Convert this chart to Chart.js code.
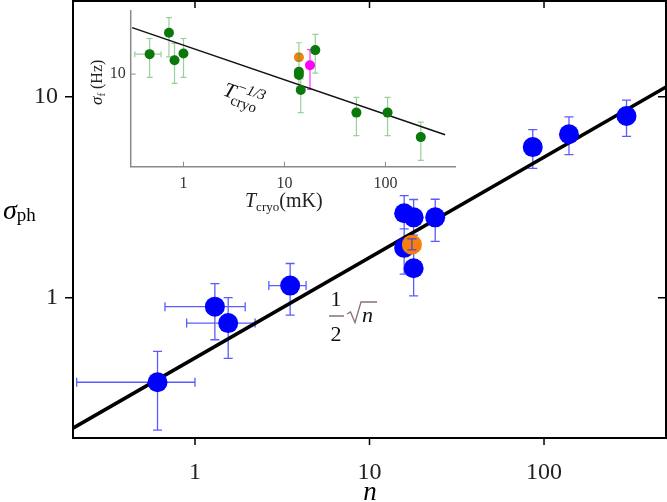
<!DOCTYPE html>
<html>
<head>
<meta charset="utf-8">
<script src="https://cdn.jsdelivr.net/npm/chart.js@4.4.0/dist/chart.umd.min.js"></script>
<style>
html, body { margin: 0; padding: 0; background: #fff; }
#wrap { position: relative; width: 667px; height: 502px; }
#main { position: absolute; left: 0; top: 0; }
#inset { position: absolute; left: 60px; top: 0; }
</style>
</head>
<body>
<div id="wrap">
<canvas id="main" width="667" height="502"></canvas>
<canvas id="inset" width="410" height="215"></canvas>
</div>
<script>
// ---- main panel: sigma_ph vs n ----
const nVals   = [0.61, 1.30, 1.55, 3.51, 15.8, 17.9, 23.8, 15.8, 17.9, 86.2, 139, 297];
const nLo     = [0.21, 0.673, 0.896, 2.65, null, null, null, null, null, null, null, null];
const nHi     = [1.00, 1.94, 2.21, 4.33, null, null, null, null, null, null, null, null];
const sigVals = [0.379, 0.902, 0.747, 1.148, 2.63, 2.51, 2.51, 1.77, 1.40, 5.62, 6.51, 8.03];
const sigLo   = [0.219, 0.617, 0.498, 0.819, 2.20, 2.05, 1.905, 1.31, 1.02, 4.40, 5.15, 6.36];
const sigHi   = [0.54, 1.175, 1.00, 1.479, 3.22, 3.08, 3.09, 2.20, 1.90, 6.87, 7.94, 9.63];

const orangeN = [17.5];
const orangeSig = [1.835];
const orangeLo = [1.73];
const orangeHi = [1.96];

const fitN = [0.2, 500];
const fitSig = [0.224, 11.2];

const mainXTicks = [1, 10, 100];
const mainYTicks = [1, 10];

// ---- inset: sigma_f vs T_cryo ----
const tVals  = [0.462, 0.718, 0.815, 1.0, 13.9, 13.9, 14.5, 20.2, 51.6, 105, 224];
const tLo    = [0.329, null, null, null, null, null, null, null, null, null, null];
const tHi    = [0.60, null, null, null, null, null, null, null, null, null, null];
const sfVals = [15.4, 24.5, 13.5, 15.6, 10.5, 9.8, 7.1, 16.8, 4.35, 4.35, 2.56];
const sfLo   = [9.3, 14.5, 8.2, 9.3, 7.6, 7.2, 4.35, 10.2, 2.64, 2.64, 1.55];
const sfHi   = [21.6, 33.9, 19.4, 21.6, 19.7, 14.0, 9.0, 23.6, 6.05, 6.05, 3.54];

const orangeT = [13.9], orangeSf = [14.4], orangeSfLo = [13.4], orangeSfHi = [15.4];
const magentaT = [17.9], magentaSf = [12.1], magentaSfLo = [7.2], magentaSfHi = [17.0];

const trendT = [0.31, 390];
const trendSf = [27.3, 2.69];

const insetXTicks = [1, 10, 100];
const insetYTicks = [10];

const SERIF = '"Liberation Serif", "DejaVu Serif", serif';

function toPts(xs, ys) { return xs.map((v, i) => ({ x: v, y: ys[i] })); }
function isDecade(v) { const l = Math.log10(v); return Math.abs(l - Math.round(l)) < 1e-6; }
function tickLabel(list) {
    return v => list.some(t => Math.abs(t - v) < 1e-9) ? String(v) : null;
}

function drawErrorBars(ctx, sx, sy, xs, ys, yLo, yHi, xLo, xHi, color, cap, width) {
    ctx.save();
    ctx.strokeStyle = color;
    ctx.lineWidth = width;
    ctx.beginPath();
    xs.forEach((v, i) => {
        const px = sx.getPixelForValue(v), py = sy.getPixelForValue(ys[i]);
        if (yLo && yLo[i] != null) {
            const a = sy.getPixelForValue(yLo[i]), b = sy.getPixelForValue(yHi[i]);
            ctx.moveTo(px, a); ctx.lineTo(px, b);
            ctx.moveTo(px - cap, a); ctx.lineTo(px + cap, a);
            ctx.moveTo(px - cap, b); ctx.lineTo(px + cap, b);
        }
        if (xLo && xLo[i] != null) {
            const a = sx.getPixelForValue(xLo[i]), b = sx.getPixelForValue(xHi[i]);
            ctx.moveTo(a, py); ctx.lineTo(b, py);
            ctx.moveTo(a, py - cap); ctx.lineTo(a, py + cap);
            ctx.moveTo(b, py - cap); ctx.lineTo(b, py + cap);
        }
    });
    ctx.stroke();
    ctx.restore();
}

// text with sub/superscripts: parts = [text, font, dy, color]
function rich(ctx, x, y, parts) {
    let cx = x;
    parts.forEach(([t, f, dy, col]) => {
        ctx.font = f;
        ctx.fillStyle = col || '#000';
        ctx.fillText(t, cx, y + (dy || 0));
        cx += ctx.measureText(t).width;
    });
}

// keep the plot box where we put it (no label overflow padding)
function fixY(width) {
    return s => { s.width = width; s.paddingTop = 0; s.paddingBottom = 0; };
}
function fixX(height) {
    return s => { s.height = height; s.paddingLeft = 0; s.paddingRight = 0; };
}

const mainDecor = {
    id: 'mainDecor',
    beforeDatasetsDraw(chart) {
        const { ctx, chartArea: a, scales: { x, y } } = chart;
        ctx.save();
        ctx.beginPath();
        ctx.rect(a.left, a.top, a.right - a.left, a.bottom - a.top);
        ctx.clip();
        drawErrorBars(ctx, x, y, nVals, sigVals, sigLo, sigHi, nLo, nHi, 'rgba(50,50,255,0.8)', 4.5, 1.3);
        ctx.restore();
    },
    afterDatasetsDraw(chart) {
        const { ctx, chartArea: a, scales: { x, y } } = chart;
        drawErrorBars(ctx, x, y, orangeN, orangeSig, orangeLo, orangeHi, null, null, 'rgba(50,50,255,0.8)', 4.5, 1.3);

        // frame
        ctx.save();
        ctx.strokeStyle = '#000';
        ctx.lineWidth = 2;
        ctx.strokeRect(a.left, a.top, a.right - a.left, a.bottom - a.top);
        ctx.lineWidth = 1.5;
        ctx.beginPath();
        x.ticks.forEach(t => {
            const px = x.getPixelForValue(t.value);
            const len = isDecade(t.value) ? 7 : 4;
            ctx.moveTo(px, a.bottom); ctx.lineTo(px, a.bottom + len);   // outward
            ctx.moveTo(px, a.top); ctx.lineTo(px, a.top + len);         // inward
        });
        y.ticks.forEach(t => {
            const py = y.getPixelForValue(t.value);
            const len = isDecade(t.value) ? 8 : 5;
            ctx.moveTo(a.left, py); ctx.lineTo(a.left - len, py);       // outward
            ctx.moveTo(a.right, py); ctx.lineTo(a.right - len, py);     // inward
        });
        ctx.stroke();

        // axis titles
        ctx.textAlign = 'left';
        ctx.textBaseline = 'alphabetic';
        rich(ctx, 3, 219, [['σ', 'italic 28px ' + SERIF, 0], ['ph', '19px ' + SERIF, 2]]);
        ctx.textAlign = 'center';
        rich(ctx, 370, 500, [['n', 'italic 27px ' + SERIF, 0]]);

        // 1/2 sqrt(n) label
        ctx.fillStyle = '#111';
        ctx.font = '22px ' + SERIF;
        ctx.fillText('1', 336, 306);
        ctx.fillText('2', 336, 341);
        ctx.strokeStyle = '#8a7070';
        ctx.lineWidth = 1.3;
        ctx.beginPath();
        ctx.moveTo(329, 316); ctx.lineTo(344, 316);
        ctx.moveTo(347, 314); ctx.lineTo(350.5, 312); ctx.lineTo(355, 322.5);
        ctx.lineTo(361, 302); ctx.lineTo(377, 302);
        ctx.stroke();
        ctx.textAlign = 'left';
        rich(ctx, 362, 322, [['n', 'italic 22px ' + SERIF, 0, '#111']]);
        ctx.restore();
    }
};

new Chart(document.getElementById('main'), {
    type: 'scatter',
    data: {
        datasets: [
            {
                data: toPts(orangeN, orangeSig),
                backgroundColor: '#f5800f', borderWidth: 0, pointRadius: 10
            },
            {
                data: toPts(nVals, sigVals),
                backgroundColor: '#0000ff', borderWidth: 0, pointRadius: 10
            },
            {
                data: toPts(fitN, fitSig),
                showLine: true, borderColor: '#000', borderWidth: 3.5, pointRadius: 0
            }
        ]
    },
    options: {
        responsive: false,
        animation: false,
        devicePixelRatio: 1,
        layout: { autoPadding: false, padding: { top: 1, right: 1, left: 0, bottom: 0 } },
        plugins: { legend: { display: false }, tooltip: { enabled: false } },
        scales: {
            x: {
                type: 'logarithmic', min: 0.2, max: 500,
                grid: { display: false, drawTicks: false }, border: { display: false },
                ticks: {
                    autoSkip: false, maxRotation: 0, minRotation: 0, padding: 20,
                    color: '#222', font: { family: SERIF, size: 24 },
                    callback: tickLabel(mainXTicks)
                },
                afterFit: fixX(64)
            },
            y: {
                type: 'logarithmic', min: 0.2, max: 30,
                grid: { display: false, drawTicks: false }, border: { display: false },
                ticks: {
                    autoSkip: false, padding: 15,
                    color: '#222', font: { family: SERIF, size: 24 },
                    callback: tickLabel(mainYTicks)
                },
                afterFit: fixY(73)
            }
        }
    },
    plugins: [mainDecor]
});

const insetDecor = {
    id: 'insetDecor',
    beforeDatasetsDraw(chart) {
        const { ctx, scales: { x, y } } = chart;
        drawErrorBars(ctx, x, y, tVals, sfVals, sfLo, sfHi, tLo, tHi, 'rgba(70,170,70,0.55)', 3, 1.2);
        drawErrorBars(ctx, x, y, magentaT, magentaSf, magentaSfLo, magentaSfHi, null, null, 'rgba(255,0,255,0.8)', 3, 1.2);
    },
    afterDatasetsDraw(chart) {
        const { ctx, chartArea: a, scales: { x, y } } = chart;
        drawErrorBars(ctx, x, y, orangeT, orangeSf, orangeSfLo, orangeSfHi, null, null, 'rgba(70,170,70,0.7)', 3, 1.2);
        ctx.save();
        ctx.strokeStyle = '#8a8a8a';
        ctx.lineWidth = 1.5;
        ctx.beginPath();
        ctx.moveTo(a.left, a.top); ctx.lineTo(a.left, a.bottom); ctx.lineTo(a.right, a.bottom);
        ctx.stroke();
        ctx.lineWidth = 1;
        ctx.beginPath();
        x.ticks.forEach(t => {
            const px = x.getPixelForValue(t.value);
            const len = isDecade(t.value) ? 5 : 3;
            ctx.moveTo(px, a.bottom); ctx.lineTo(px, a.bottom - len);
        });
        y.ticks.forEach(t => {
            const py = y.getPixelForValue(t.value);
            const len = isDecade(t.value) ? 5 : 3;
            ctx.moveTo(a.left, py); ctx.lineTo(a.left + len, py);
        });
        ctx.stroke();

        ctx.textAlign = 'left';
        ctx.textBaseline = 'alphabetic';
        // x title: T_cryo(mK)
        rich(ctx, 185, 207, [
            ['T', 'italic 20px ' + SERIF, 0, '#222'],
            ['cryo', '13px ' + SERIF, 4, '#222'],
            ['(mK)', '20px ' + SERIF, 0, '#222']
        ]);
        // y title: sigma_f (Hz)
        ctx.save();
        ctx.translate(42, 105);
        ctx.rotate(-Math.PI / 2);
        rich(ctx, 0, 0, [
            ['σ', 'italic 17px ' + SERIF, 0, '#222'],
            ['f', '11px ' + SERIF, 3, '#222'],
            [' (Hz)', '16px ' + SERIF, 0, '#222']
        ]);
        ctx.restore();
        // trend label T_cryo^(-1/3)
        ctx.save();
        ctx.translate(162, 95);
        ctx.rotate(0.34);
        rich(ctx, 0, 0, [['T', 'italic 21px ' + SERIF, 0, '#111']]);
        rich(ctx, 12, 0, [['−1/3', 'italic 15px ' + SERIF, -9, '#111']]);
        rich(ctx, 10, 0, [['cryo', '15px ' + SERIF, 6, '#111']]);
        ctx.restore();
        ctx.restore();
    }
};

new Chart(document.getElementById('inset'), {
    type: 'scatter',
    data: {
        datasets: [
            {
                data: toPts(orangeT, orangeSf),
                backgroundColor: '#f5800f', borderWidth: 0, pointRadius: 5
            },
            {
                data: toPts(magentaT, magentaSf),
                backgroundColor: '#ff00ff', borderWidth: 0, pointRadius: 5
            },
            {
                data: toPts(tVals, sfVals),
                backgroundColor: '#0a780a', borderWidth: 0, pointRadius: 5
            },
            {
                data: toPts(trendT, trendSf),
                showLine: true, borderColor: '#111', borderWidth: 1.5, pointRadius: 0
            }
        ]
    },
    options: {
        responsive: false,
        animation: false,
        devicePixelRatio: 1,
        layout: { autoPadding: false, padding: { top: 10, right: 14, left: 0, bottom: 0 } },
        plugins: { legend: { display: false }, tooltip: { enabled: false } },
        scales: {
            x: {
                type: 'logarithmic', min: 0.3, max: 500,
                grid: { display: false, drawTicks: false }, border: { display: false },
                ticks: {
                    autoSkip: false, maxRotation: 0, minRotation: 0, padding: 7,
                    color: '#333', font: { family: SERIF, size: 16 },
                    callback: tickLabel(insetXTicks)
                },
                afterFit: fixX(48.3)
            },
            y: {
                type: 'logarithmic', min: 1.35, max: 40,
                grid: { display: false, drawTicks: false }, border: { display: false },
                ticks: {
                    autoSkip: false, padding: 5,
                    color: '#333', font: { family: SERIF, size: 16 },
                    callback: tickLabel(insetYTicks)
                },
                afterFit: fixY(70.7)
            }
        }
    },
    plugins: [insetDecor]
});
</script>
</body>
</html>
